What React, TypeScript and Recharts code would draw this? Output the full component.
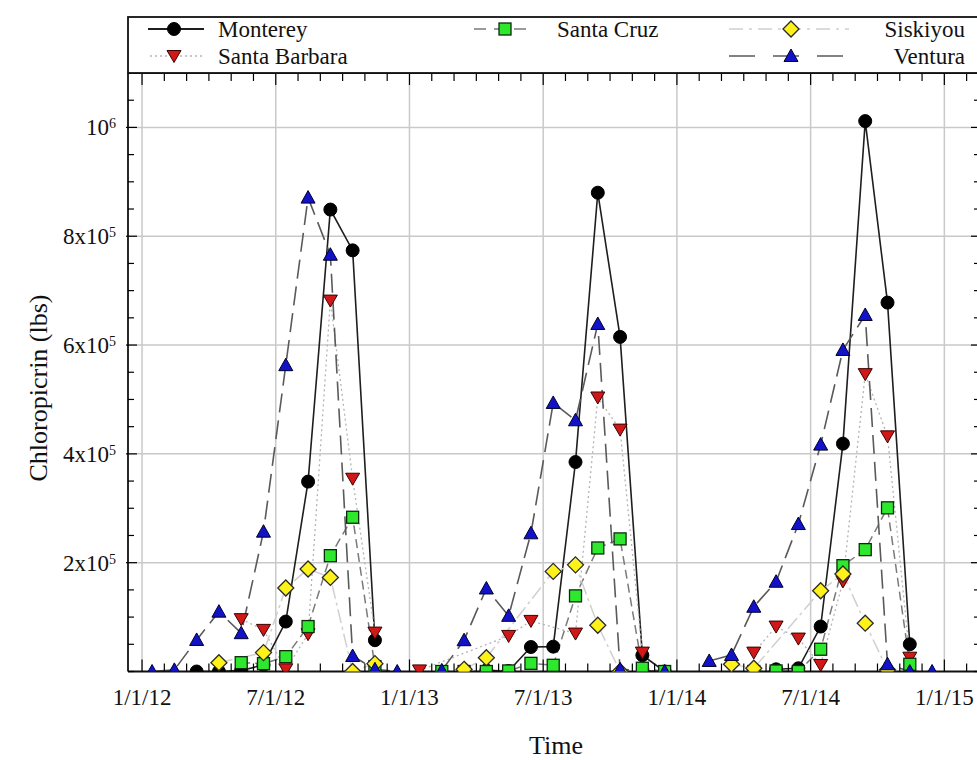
import React from 'react'
import { LineChart, Line, XAxis, YAxis, CartesianGrid } from 'recharts'

// points sit in the middle of each month; x is counted in months from 1/1/12
const MONTH_OFFSET = 0.45
const X_DOMAIN: [number, number] = [-0.63, 37.6]
const Y_DOMAIN: [number, number] = [0, 1100000]

const xTickLabels = ['1/1/12', '7/1/12', '1/1/13', '7/1/13', '1/1/14', '7/1/14', '1/1/15']
const xMajorTicks = [0, 6, 12, 18, 24, 30, 36]
const yMajorTicks = [200000, 400000, 600000, 800000, 1000000]
const yTickMantissa = ['2x10', '4x10', '6x10', '8x10', '10']
const yTickExponent = ['5', '5', '5', '5', '6']

// monthly totals, Jan..Dec; null = no point that month
const monterey2012 = [null, null, 0, 0, 2000, 12000, 91800, 349000, 849000, 774000, 57500, null]
const monterey2013 = [null, null, null, 2000, 1000, 45000, 45700, 385000, 880000, 615000, 29900, 0]
const monterey2014 = [null, null, null, null, 4000, 5900, 82600, 418800, 1011600, 678000, 50100, null]

const santaBarbara2012 = [null, null, null, null, 96200, 76500, 4000, 68600, 681700, 354300, 71500, null]
const santaBarbara2013 = [2000, null, null, null, 65400, 93000, null, 69700, 503600, 444600, 34700, null]
const santaBarbara2014 = [null, null, null, 34700, 82600, 60500, 12000, 165500, 546500, 432200, 25400, null]

const santaCruz2012 = [null, null, null, null, 16200, 14400, 27300, 82600, 212900, 283500, 9000, null]
const santaCruz2013 = [null, 0, 0, 0, 1000, 15000, 11400, 139000, 227000, 243700, 6000, 0]
const santaCruz2014 = [null, null, null, 0, 1000, 0, 40900, 194500, 224000, 300800, 13300, null]

const siskiyou2012 = [null, null, null, 16200, null, 34700, 153400, 188400, 172900, 0, 14400, null]
const siskiyou2013 = [null, null, 4000, 25400, null, null, 184000, 196000, 85000, 0, null, null]
const siskiyou2014 = [null, null, 13300, 5900, null, null, 148400, 179200, 88800, 3000, null, null]

const ventura2012 = [0, 3000, 58000, 110000, 70400, 257000, 563000, 871000, 766000, 28500, 4000, 0]
const ventura2013 = [null, 2000, 57500, 152600, 102300, 254000, 493600, 461700, 638700, 4000, null, 0]
const ventura2014 = [null, 19400, 30400, 119000, 165000, 271000, 417000, 591000, 655300, 13300, 0, 0]

type Pt = { t: number; v: number | null }

// one point per month that has a value; a null after each year breaks the line
function buildSeries(years: (number | null)[][]): Pt[] {
  const out: Pt[] = []
  years.forEach((vals, yi) => {
    vals.forEach((v, m) => {
      if (v !== null) out.push({ t: yi * 12 + m + MONTH_OFFSET, v })
    })
    out.push({ t: yi * 12 + 11.95, v: null })
  })
  return out
}

type Shape = 'circle' | 'triDown' | 'square' | 'diamond' | 'triUp'

const series = [
  { name: 'Monterey', data: buildSeries([monterey2012, monterey2013, monterey2014]), stroke: '#1e1e1e', dash: undefined, width: 1.6, shape: 'circle' as Shape, fill: '#000', edge: '#000' },
  { name: 'Santa Barbara', data: buildSeries([santaBarbara2012, santaBarbara2013, santaBarbara2014]), stroke: '#b4b4b4', dash: '2 3', width: 1.3, shape: 'triDown' as Shape, fill: '#d01818', edge: '#3a0000' },
  { name: 'Santa Cruz', data: buildSeries([santaCruz2012, santaCruz2013, santaCruz2014]), stroke: '#7a7a7a', dash: '9 5', width: 1.5, shape: 'square' as Shape, fill: '#2ee82e', edge: '#0c2a0c' },
  { name: 'Siskiyou', data: buildSeries([siskiyou2012, siskiyou2013, siskiyou2014]), stroke: '#d0d0d0', dash: '14 4 3 4', width: 1.5, shape: 'diamond' as Shape, fill: '#fff21a', edge: '#2a2a2a' },
  { name: 'Ventura', data: buildSeries([ventura2012, ventura2013, ventura2014]), stroke: '#5a5a5a', dash: '19 8', width: 1.6, shape: 'triUp' as Shape, fill: '#1212c8', edge: '#000028' },
]

function Marker({ shape, cx, cy, fill, edge }: { shape: Shape; cx: number; cy: number; fill: string; edge: string }) {
  if (shape === 'circle') return <circle cx={cx} cy={cy} r={6.5} fill={fill} stroke={edge} />
  if (shape === 'square') return <rect x={cx - 6} y={cy - 6} width={12} height={12} fill={fill} stroke={edge} strokeWidth={1.3} />
  if (shape === 'diamond')
    return <polygon points={`${cx},${cy - 8} ${cx + 8},${cy} ${cx},${cy + 8} ${cx - 8},${cy}`} fill={fill} stroke={edge} strokeWidth={1.3} />
  if (shape === 'triDown')
    return <polygon points={`${cx - 7},${cy - 5.5} ${cx + 7},${cy - 5.5} ${cx},${cy + 6.5}`} fill={fill} stroke={edge} strokeWidth={1} />
  return <polygon points={`${cx},${cy - 7} ${cx + 7},${cy + 5.5} ${cx - 7},${cy + 5.5}`} fill={fill} stroke={edge} strokeWidth={1} />
}

const serif = '"Liberation Serif", "Times New Roman", serif'

// tick renderers: the axis sits at (x, y) because tickSize and tickMargin are 0
function BottomTick(props: any) {
  const { x, y, payload } = props
  const major = payload.value % 6 === 0
  const idx = xMajorTicks.indexOf(payload.value)
  return (
    <g>
      <line x1={x} x2={x} y1={y} y2={y - (major ? 12 : 8)} stroke="#000" strokeWidth={1.2} />
      {idx >= 0 && (
        <text x={x} y={y + 33} textAnchor="middle" fontSize={23} fontFamily={serif} fill="#111">
          {xTickLabels[idx]}
        </text>
      )}
    </g>
  )
}

function TopTick(props: any) {
  const { x, y, payload } = props
  const major = payload.value % 6 === 0
  return <line x1={x} x2={x} y1={y} y2={y + (major ? 12 : 8)} stroke="#000" strokeWidth={1.2} />
}

function LeftTick(props: any) {
  const { x, y, payload } = props
  const idx = yMajorTicks.indexOf(payload.value)
  return (
    <g>
      <line x1={idx >= 0 ? x - 2 : x} x2={x + (idx >= 0 ? 9 : 6)} y1={y} y2={y} stroke="#000" strokeWidth={1.2} />
      {idx >= 0 && (
        <text x={x - 12} y={y + 8} textAnchor="end" fontSize={23} fontFamily={serif} fill="#111">
          {yTickMantissa[idx]}
          <tspan fontSize={14} dy={-7}>{yTickExponent[idx]}</tspan>
        </text>
      )}
    </g>
  )
}

function RightTick(props: any) {
  const { x, y, payload } = props
  const major = yMajorTicks.indexOf(payload.value) >= 0
  return <line x1={x} x2={x - (major ? 9 : 6)} y1={y} y2={y} stroke="#000" strokeWidth={1.2} />
}

const xAllTicks = Array.from({ length: 38 }, (_, i) => i)
const yAllTicks = Array.from({ length: 23 }, (_, i) => i * 50000)

function LegendBox() {
  const row1 = 29
  const row2 = 56
  const text = { fontSize: 23, fontFamily: serif, fill: '#111' }
  return (
    <svg width={977} height={80} style={{ position: 'absolute', left: 0, top: 0 }}>
      <rect x={128} y={17} width={900} height={56} fill="#fff" stroke="#111" strokeWidth={1.8} />
      {/* Monterey */}
      <line x1={148} x2={204} y1={row1} y2={row1} stroke="#1e1e1e" strokeWidth={1.8} />
      <Marker shape="circle" cx={174} cy={row1} fill="#000" edge="#000" />
      <text x={218} y={row1 + 8} {...text}>Monterey</text>
      {/* Santa Barbara */}
      <line x1={150} x2={204} y1={row2} y2={row2} stroke="#b4b4b4" strokeWidth={1.3} strokeDasharray="2 3" />
      <Marker shape="triDown" cx={174} cy={row2} fill="#d01818" edge="#3a0000" />
      <text x={218} y={row2 + 8} {...text}>Santa Barbara</text>
      {/* Santa Cruz */}
      <line x1={474} x2={534} y1={row1} y2={row1} stroke="#7a7a7a" strokeWidth={1.5} strokeDasharray="12 8" />
      <Marker shape="square" cx={505} cy={row1} fill="#2ee82e" edge="#0c2a0c" />
      <text x={557} y={row1 + 8} {...text}>Santa Cruz</text>
      {/* Siskiyou */}
      <line x1={729} x2={849} y1={row1} y2={row1} stroke="#d0d0d0" strokeWidth={1.5} strokeDasharray="14 6 3 6" />
      <Marker shape="diamond" cx={791} cy={row1} fill="#fff21a" edge="#2a2a2a" />
      <text x={965} y={row1 + 8} textAnchor="end" {...text}>Siskiyou</text>
      {/* Ventura */}
      <line x1={729} x2={849} y1={row2} y2={row2} stroke="#5a5a5a" strokeWidth={1.6} strokeDasharray="26 18" />
      <Marker shape="triUp" cx={791} cy={row2} fill="#1212c8" edge="#000028" />
      <text x={965} y={row2 + 8} textAnchor="end" {...text}>Ventura</text>
    </svg>
  )
}

export default function App() {
  return (
    <div
      style={{ position: 'absolute', left: 0, top: 0, width: 977, height: 760, overflow: 'hidden', background: '#fff' }}
    >
      <LineChart width={1000} height={760} margin={{ top: 43, right: 0, bottom: 58.5, left: 68 }}>
        <CartesianGrid
          horizontalValues={yMajorTicks}
          verticalValues={xMajorTicks}
          stroke="#c9c9c9"
          strokeWidth={1.5}
        />
        <XAxis
          dataKey="t"
          type="number"
          domain={X_DOMAIN}
          allowDataOverflow
          ticks={xAllTicks}
          interval={0}
          height={30}
          tickSize={0}
          tickMargin={0}
          tickLine={false}
          axisLine={{ stroke: '#111', strokeWidth: 1.8 }}
          tick={(p: any) => <BottomTick {...p} />}
        />
        <XAxis
          xAxisId="top"
          orientation="top"
          dataKey="t"
          type="number"
          domain={X_DOMAIN}
          allowDataOverflow
          ticks={xAllTicks}
          interval={0}
          height={30}
          tickSize={0}
          tickMargin={0}
          tickLine={false}
          axisLine={{ stroke: '#111', strokeWidth: 1.8 }}
          tick={(p: any) => <TopTick {...p} />}
        />
        <YAxis
          type="number"
          domain={Y_DOMAIN}
          allowDataOverflow
          ticks={yAllTicks}
          interval={0}
          width={60}
          tickSize={0}
          tickMargin={0}
          tickLine={false}
          axisLine={{ stroke: '#111', strokeWidth: 1.8 }}
          tick={(p: any) => <LeftTick {...p} />}
        />
        <YAxis
          yAxisId="right"
          orientation="right"
          type="number"
          domain={Y_DOMAIN}
          allowDataOverflow
          ticks={yAllTicks}
          interval={0}
          width={20}
          tickSize={0}
          tickMargin={0}
          tickLine={false}
          axisLine={{ stroke: '#111', strokeWidth: 1.8 }}
          tick={(p: any) => <RightTick {...p} />}
        />
        {series.map((s) => (
          <Line
            key={s.name}
            name={s.name}
            data={s.data}
            dataKey="v"
            type="linear"
            stroke={s.stroke}
            strokeWidth={s.width}
            strokeDasharray={s.dash}
            connectNulls={false}
            isAnimationActive={false}
            activeDot={false}
            dot={(p: any) =>
              p.value == null || p.cy == null ? (
                <g key={p.key} />
              ) : (
                <Marker key={p.key} shape={s.shape} cx={p.cx} cy={p.cy} fill={s.fill} edge={s.edge} />
              )
            }
          />
        ))}
      </LineChart>
      <LegendBox />
      <svg width={977} height={760} style={{ position: 'absolute', left: 0, top: 0, pointerEvents: 'none' }}>
        <text x={38} y={388} transform="rotate(-90 38 388)" textAnchor="middle" dominantBaseline="central" fontSize={26} fontFamily={serif} fill="#111">
          Chloropicrin (lbs)
        </text>
        <text x={556} y={745} textAnchor="middle" dominantBaseline="central" fontSize={26} fontFamily={serif} fill="#111">
          Time
        </text>
      </svg>
    </div>
  )
}
